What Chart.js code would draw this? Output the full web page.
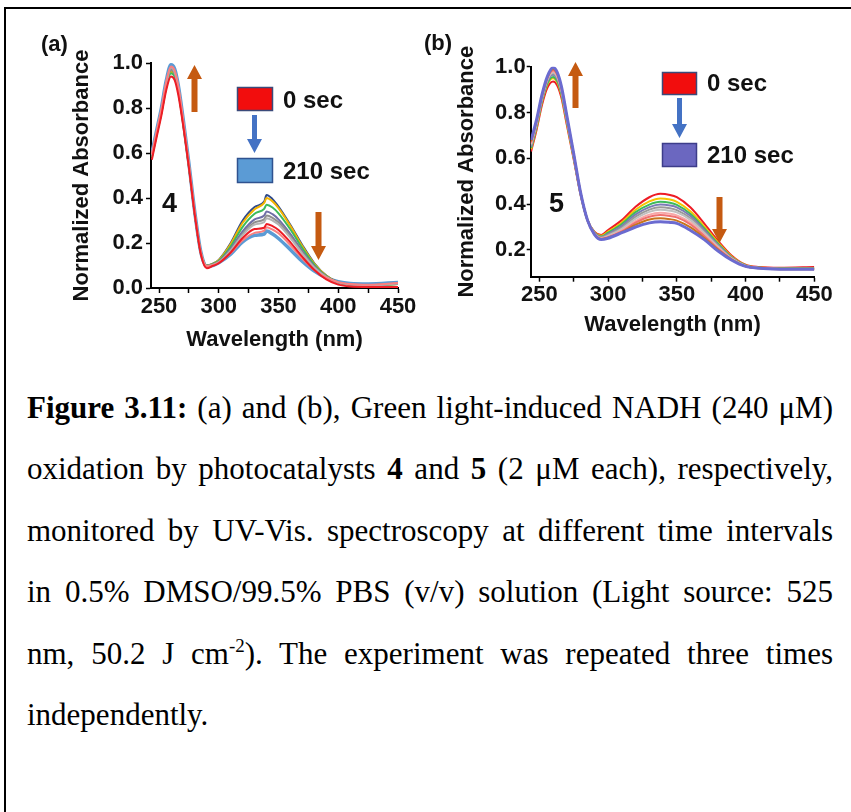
<!DOCTYPE html>
<html>
<head>
<meta charset="utf-8">
<script src="https://cdn.jsdelivr.net/npm/chart.js@4"></script>
<style>
  body { margin: 0; background: #fff; }
  #page { position: relative; width: 851px; height: 812px; overflow: hidden; background: #fff; }
  #frame { position: absolute; left: 4px; top: 7px; width: 900px; height: 900px; border: 2px solid #000; box-sizing: border-box; }
  canvas { position: absolute; top: 0; }
  #deco { position: absolute; left: 0; top: 0; }
  .lbl { position: absolute; font-family: Arial, "Liberation Sans", sans-serif; font-weight: bold; color: #111; white-space: nowrap; line-height: 1; }
  #caption { position: absolute; left: 27px; top: 377px; width: 806px; font-family: "Times New Roman", "Liberation Serif", serif; font-size: 31px; line-height: 61.4px; color: #000; }
  #caption div { white-space: nowrap; text-align: justify; text-align-last: justify; }
  #caption div.last { text-align: left; text-align-last: left; }
  #caption sup { font-size: 19px; line-height: 0; vertical-align: 12px; }
</style>
</head>
<body>
<div id="page">
  <div id="frame"></div>
  <canvas id="chartA" width="420" height="360" style="left:0"></canvas>
  <canvas id="chartB" width="431" height="360" style="left:420px"></canvas>
  <svg id="deco" width="851" height="360"></svg>

  <div class="lbl" style="left:41px;top:33px;font-size:22px">(a)</div>
  <div class="lbl" style="left:424px;top:32px;font-size:22px">(b)</div>
  <div class="lbl" style="left:283px;top:88px;font-size:24px">0 sec</div>
  <div class="lbl" style="left:283px;top:159px;font-size:24px">210 sec</div>
  <div class="lbl" style="left:162px;top:190px;font-size:27px">4</div>
  <div class="lbl" style="left:707px;top:71px;font-size:24px">0 sec</div>
  <div class="lbl" style="left:707px;top:143px;font-size:24px">210 sec</div>
  <div class="lbl" style="left:549px;top:190px;font-size:27px">5</div>

  <div id="caption">
    <div><b>Figure 3.11:</b> (a) and (b), Green light-induced NADH (240 μM)</div>
    <div>oxidation by photocatalysts <b>4</b> and <b>5</b> (2 μM each), respectively,</div>
    <div>monitored by UV-Vis. spectroscopy at different time intervals</div>
    <div>in 0.5% DMSO/99.5% PBS (v/v) solution (Light source: 525</div>
    <div>nm, 50.2 J cm<sup>-2</sup>). The experiment was repeated three times</div>
    <div class="last">independently.</div>
  </div>
</div>

<script>
// panel (a), photocatalyst 4
const wlA = [244, 248, 252, 256, 260, 263, 266, 270, 275, 280, 285, 290, 295, 300, 310, 320, 330, 338, 340, 345, 350, 360, 370, 380, 390, 400, 410, 425, 450];
const a_red    = [0.570,0.670,0.766,0.878,0.940,0.925,0.862,0.730,0.535,0.322,0.150,0.088,0.098,0.110,0.158,0.222,0.262,0.268,0.285,0.275,0.258,0.203,0.138,0.080,0.038,0.015,0.007,0.005,0.005];
const a_salmon = [0.595,0.695,0.796,0.915,0.985,0.968,0.901,0.755,0.552,0.333,0.159,0.097,0.101,0.113,0.155,0.212,0.245,0.255,0.270,0.260,0.243,0.190,0.130,0.080,0.046,0.026,0.018,0.015,0.022];
const a_silver = [0.592,0.692,0.792,0.910,0.980,0.962,0.898,0.752,0.550,0.332,0.159,0.098,0.102,0.114,0.166,0.235,0.282,0.293,0.310,0.300,0.282,0.222,0.152,0.090,0.048,0.025,0.016,0.013,0.020];
const a_gray   = [0.588,0.688,0.786,0.902,0.970,0.955,0.890,0.748,0.547,0.330,0.158,0.098,0.103,0.115,0.170,0.242,0.292,0.305,0.322,0.312,0.292,0.230,0.157,0.093,0.049,0.025,0.016,0.013,0.020];
const a_slate  = [0.590,0.690,0.789,0.906,0.975,0.958,0.894,0.750,0.548,0.331,0.158,0.098,0.104,0.117,0.175,0.252,0.305,0.322,0.340,0.328,0.305,0.240,0.163,0.096,0.050,0.025,0.016,0.013,0.020];
const a_green  = [0.580,0.680,0.776,0.889,0.955,0.940,0.876,0.740,0.542,0.328,0.157,0.099,0.106,0.120,0.185,0.272,0.330,0.352,0.370,0.358,0.332,0.260,0.176,0.103,0.052,0.025,0.015,0.012,0.018];
const a_yellow = [0.583,0.682,0.779,0.893,0.960,0.945,0.880,0.742,0.543,0.329,0.157,0.099,0.107,0.123,0.195,0.290,0.350,0.378,0.400,0.385,0.355,0.275,0.185,0.107,0.054,0.025,0.015,0.012,0.018];
const a_navy   = [0.585,0.685,0.782,0.897,0.965,0.950,0.885,0.745,0.545,0.330,0.158,0.100,0.108,0.125,0.200,0.300,0.360,0.384,0.413,0.395,0.362,0.280,0.190,0.110,0.055,0.025,0.015,0.012,0.018];
const a_blue   = [0.600,0.700,0.800,0.920,0.992,0.975,0.905,0.760,0.555,0.335,0.160,0.097,0.100,0.112,0.150,0.205,0.234,0.240,0.253,0.240,0.220,0.170,0.118,0.075,0.045,0.028,0.020,0.018,0.025];

// panel (b), photocatalyst 5
const wlB = [244, 248, 252, 256, 260, 263, 266, 270, 275, 280, 285, 290, 295, 300, 310, 320, 330, 338, 345, 350, 360, 370, 380, 390, 400, 410, 425, 450];
const b_red    = [0.630,0.725,0.835,0.910,0.935,0.918,0.865,0.745,0.595,0.440,0.330,0.280,0.265,0.287,0.330,0.388,0.430,0.445,0.440,0.430,0.385,0.315,0.240,0.175,0.135,0.125,0.122,0.125];
const b_yellow = [0.640,0.735,0.848,0.925,0.950,0.932,0.878,0.755,0.600,0.443,0.330,0.278,0.262,0.280,0.320,0.375,0.412,0.425,0.420,0.410,0.368,0.302,0.232,0.170,0.133,0.123,0.120,0.120];
const b_green  = [0.645,0.740,0.852,0.930,0.955,0.937,0.882,0.760,0.603,0.444,0.330,0.276,0.258,0.275,0.313,0.365,0.398,0.410,0.406,0.397,0.357,0.294,0.227,0.167,0.132,0.122,0.119,0.119];
const b_slate  = [0.650,0.745,0.857,0.938,0.965,0.946,0.890,0.765,0.607,0.446,0.330,0.275,0.256,0.270,0.305,0.355,0.387,0.398,0.394,0.386,0.348,0.287,0.222,0.165,0.131,0.122,0.118,0.118];
const b_gray   = [0.655,0.750,0.862,0.942,0.970,0.951,0.894,0.769,0.610,0.447,0.330,0.273,0.254,0.266,0.298,0.345,0.376,0.386,0.382,0.374,0.338,0.280,0.218,0.163,0.130,0.121,0.118,0.118];
const b_silver = [0.660,0.754,0.866,0.946,0.975,0.956,0.899,0.773,0.612,0.448,0.330,0.272,0.252,0.262,0.292,0.336,0.366,0.375,0.371,0.364,0.330,0.274,0.214,0.162,0.130,0.121,0.117,0.117];
const b_pink   = [0.665,0.758,0.870,0.950,0.980,0.960,0.903,0.777,0.614,0.449,0.330,0.271,0.250,0.258,0.285,0.326,0.354,0.362,0.358,0.351,0.319,0.266,0.209,0.160,0.129,0.121,0.117,0.117];
const b_salmon = [0.670,0.762,0.873,0.953,0.985,0.965,0.907,0.780,0.616,0.449,0.330,0.270,0.249,0.256,0.281,0.319,0.345,0.352,0.348,0.342,0.311,0.260,0.205,0.159,0.128,0.121,0.117,0.116];
const b_brown  = [0.675,0.766,0.876,0.956,0.990,0.970,0.911,0.783,0.618,0.450,0.330,0.269,0.247,0.253,0.277,0.310,0.333,0.338,0.334,0.328,0.298,0.252,0.200,0.157,0.128,0.120,0.116,0.116];
const b_purple = [0.680,0.770,0.880,0.960,0.997,0.975,0.915,0.786,0.620,0.450,0.330,0.268,0.245,0.251,0.275,0.300,0.318,0.323,0.320,0.316,0.285,0.245,0.195,0.155,0.128,0.120,0.116,0.115];

const FONT = 'Arial, "Liberation Sans", sans-serif';

function line(wl, ys, color, width) {
  return {
    data: wl.map((x, i) => ({ x: x, y: ys[i] })),
    borderColor: color,
    borderWidth: width || 2,
    pointRadius: 0,
    fill: false,
    cubicInterpolationMode: 'monotone'
  };
}

function makeOptions(p) {
  return {
    responsive: false,
    animation: false,
    devicePixelRatio: 1,
    layout: { padding: p.padding },
    plugins: { legend: { display: false }, tooltip: { enabled: false } },
    scales: {
      x: {
        type: 'linear',
        min: p.xmin, max: 450,
        ticks: {
          stepSize: 25, includeBounds: false, autoSkip: false, maxRotation: 0,
          padding: p.xTickPad,
          color: '#111',
          font: { family: FONT, size: 22, weight: 'bold' },
          callback: v => (v % 50 === 0 ? v : '')
        },
        grid: { drawOnChartArea: false, drawTicks: true, tickLength: 5, tickColor: '#000', tickWidth: 1.5 },
        border: { color: '#000', width: 2 },
        title: {
          display: true, text: 'Wavelength (nm)', color: '#111',
          font: { family: FONT, size: 22, weight: 'bold' },
          padding: { top: 0, bottom: p.xTitlePad }
        },
        afterFit: s => { s.height = p.xHeight; }
      },
      y: {
        min: p.ymin, max: 1.0,
        ticks: {
          stepSize: 0.2, includeBounds: false, autoSkip: false,
          padding: p.yTickPad,
          color: '#111',
          font: { family: FONT, size: 22, weight: 'bold' },
          callback: v => v.toFixed(1)
        },
        grid: { drawOnChartArea: false, drawTicks: true, tickLength: p.yTickLen, tickColor: '#000', tickWidth: 1.5 },
        border: { color: '#000', width: 2 },
        title: {
          display: true, text: 'Normalized Absorbance', color: '#111',
          font: { family: FONT, size: 22, weight: 'bold' },
          padding: { top: 8.8, bottom: 0 }
        },
        afterFit: s => { s.width = p.yWidth; }
      }
    }
  };
}

new Chart(document.getElementById('chartA'), {
  type: 'line',
  data: {
    datasets: [
      line(wlA, a_red, '#ee1c25'),
      line(wlA, a_salmon, '#fa7f7f'),
      line(wlA, a_silver, '#b4b4b4'),
      line(wlA, a_gray, '#8e8e8e'),
      line(wlA, a_slate, '#6f6fa6'),
      line(wlA, a_green, '#3dbb5b'),
      line(wlA, a_yellow, '#f4b400'),
      line(wlA, a_navy, '#2e4a8c'),
      line(wlA, a_blue, '#5b9bd5', 3.5)
    ]
  },
  options: makeOptions({
    padding: { left: 60, right: 22, top: 63, bottom: 0 },
    xmin: 243.3, ymin: 0,
    xHeight: 72, yWidth: 91,
    xTickPad: 1, yTickPad: 3, yTickLen: 5, xTitlePad: 6.8
  })
});

new Chart(document.getElementById('chartB'), {
  type: 'line',
  data: {
    datasets: [
      line(wlB, b_purple, '#6b6bd0', 3),
      line(wlB, b_brown, '#c8741c'),
      line(wlB, b_salmon, '#f07070'),
      line(wlB, b_pink, '#f7a8a8'),
      line(wlB, b_silver, '#c0c0c0'),
      line(wlB, b_gray, '#9a9a9a'),
      line(wlB, b_slate, '#7b7bb5'),
      line(wlB, b_green, '#3dbb5b'),
      line(wlB, b_yellow, '#f5c400'),
      line(wlB, b_red, '#ee1c25')
    ]
  },
  options: makeOptions({
    padding: { left: 25, right: 36.7, top: 66.7, bottom: 0 },
    xmin: 243.7, ymin: 0.083,
    xHeight: 83.3, yWidth: 85.7,
    xTickPad: 0, yTickPad: 1, yTickLen: 4, xTitlePad: 21.8
  })
});

// arrows and legend swatches
const svg = document.getElementById('deco');
const NS = 'http://www.w3.org/2000/svg';
function el(tag, attrs) {
  const e = document.createElementNS(NS, tag);
  for (const k in attrs) e.setAttribute(k, attrs[k]);
  svg.appendChild(e);
}
function arrow(cx, y0, y1, up, color, shaft) {
  const hw = 7.5, hh = 14, s = shaft / 2;
  let pts;
  if (up) {
    pts = [[cx, y0], [cx + hw, y0 + hh], [cx + s, y0 + hh], [cx + s, y1], [cx - s, y1], [cx - s, y0 + hh], [cx - hw, y0 + hh]];
  } else {
    pts = [[cx, y1], [cx + hw, y1 - hh], [cx + s, y1 - hh], [cx + s, y0], [cx - s, y0], [cx - s, y1 - hh], [cx - hw, y1 - hh]];
  }
  el('polygon', { points: pts.map(p => p.join(',')).join(' '), fill: color });
}
function swatch(x, y, w, h, fill, stroke) {
  el('rect', { x: x, y: y, width: w, height: h, fill: fill, stroke: stroke, 'stroke-width': 1.5 });
}

arrow(194.5, 65, 112, true, '#c55a11', 6);
arrow(318.5, 212, 260, false, '#c55a11', 6);
arrow(254.5, 115, 153, false, '#4472c4', 5);
swatch(237.5, 87.5, 35, 23, '#f20d0d', '#3b4a7a');
swatch(237.5, 158.5, 35, 24, '#5b9bd5', '#2f528f');

arrow(575.5, 62, 108, true, '#c55a11', 6);
arrow(719.5, 197, 243, false, '#c55a11', 6);
arrow(679.5, 98, 138, false, '#4472c4', 5);
swatch(662.5, 72.5, 34, 22, '#f20d0d', '#3b4a7a');
swatch(662.5, 143.5, 34, 23, '#6b67c0', '#3d3d8a');
</script>
</body>
</html>
